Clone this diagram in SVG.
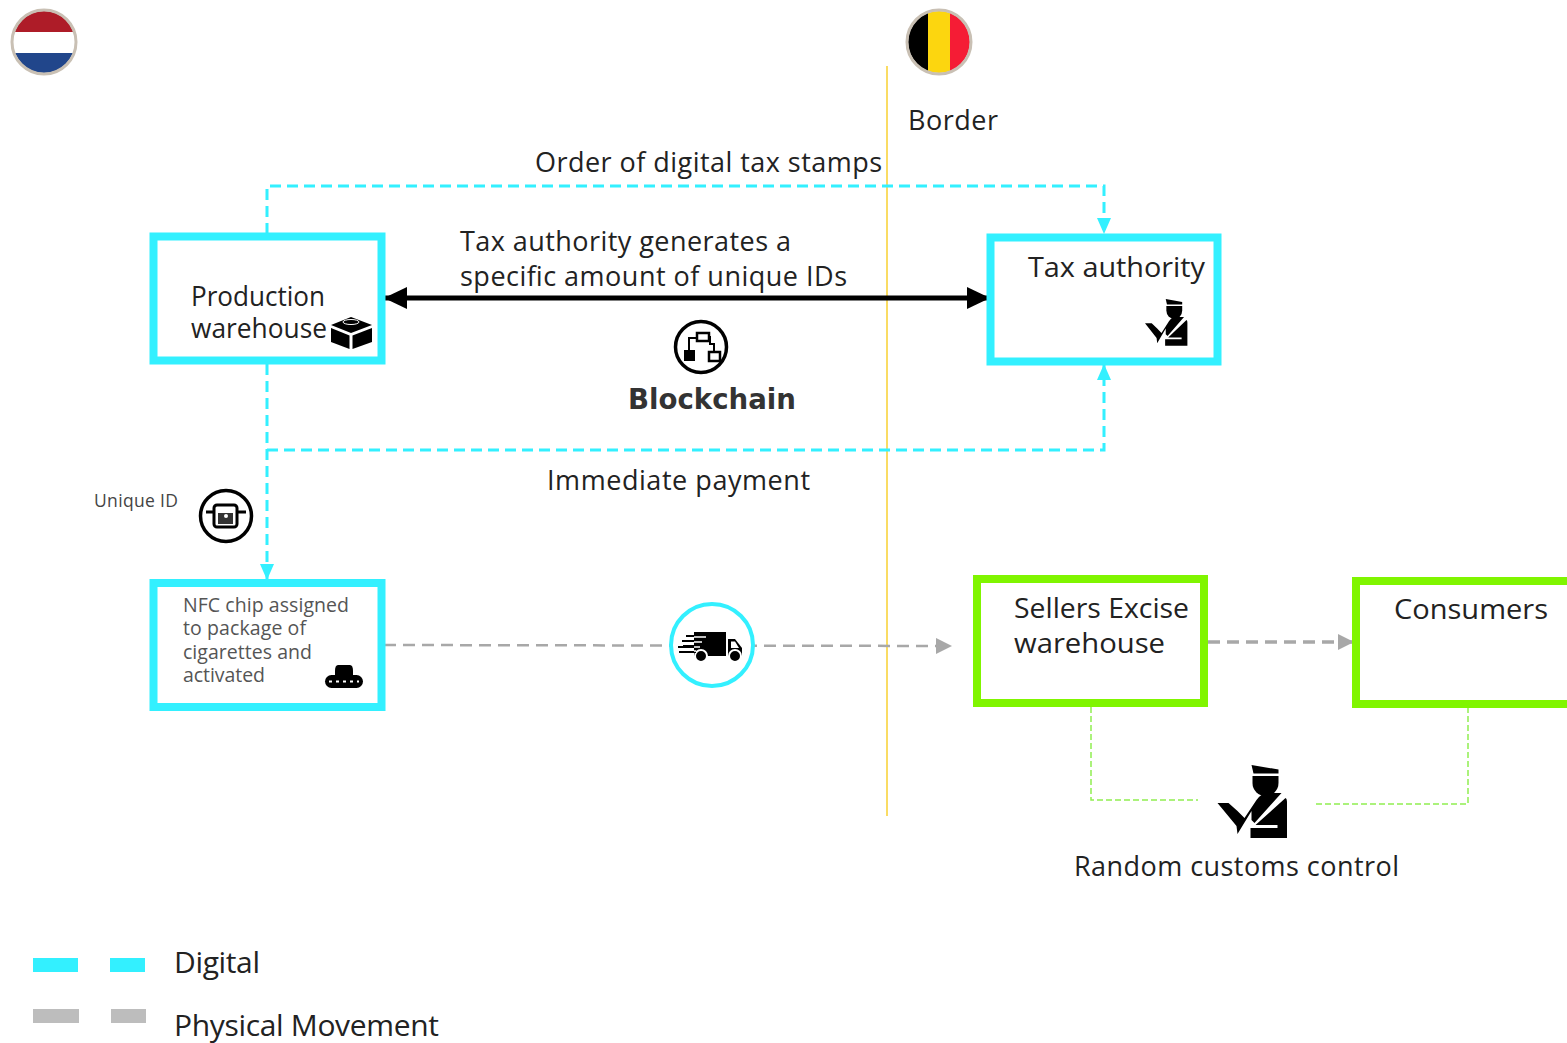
<svg xmlns="http://www.w3.org/2000/svg" xmlns:xlink="http://www.w3.org/1999/xlink" width="1567" height="1043" viewBox="0 0 1567 1043">
<style>
text{font-family:"Open Sans","Noto Sans",sans-serif;fill:#222}
.t28{font-size:28px}.t27{font-size:27px}
.box{fill:#fff;stroke-width:8}
.cy{stroke:#33f0ff}.gr{stroke:#80f500}
.dig{fill:none;stroke:#33f0ff;stroke-width:3;stroke-dasharray:11 6}
.phy{fill:none;stroke:#a8a8a8;stroke-width:2.5;stroke-dasharray:12 7}
.thin{fill:none;stroke:#90ee50;stroke-width:1.5;stroke-dasharray:6 3}
.ring{fill:#fff;stroke:#000;stroke-width:4}
</style>
<defs>
<clipPath id="nlc"><circle cx="44" cy="42" r="31"/></clipPath>
<clipPath id="bec"><circle cx="939" cy="42" r="31"/></clipPath>
<marker id="ah" markerWidth="16" markerHeight="14" refX="16" refY="7" orient="auto" markerUnits="userSpaceOnUse"><path d="M0 0L16 7L0 14z" fill="#33f0ff"/></marker>
<marker id="ag" markerWidth="16" markerHeight="16" refX="16" refY="8" orient="auto" markerUnits="userSpaceOnUse"><path d="M0 0L16 8L0 16z" fill="#a8a8a8"/></marker>
<marker id="bk" markerWidth="24" markerHeight="24" refX="22" refY="12" orient="auto-start-reverse" markerUnits="userSpaceOnUse"><path d="M0 1L23 12L0 23z" fill="#000"/></marker>
<g id="officer">
<path d="M34 0L61 4.500V8.500L36 8.500z"/>
<path d="M35 11H61V18A13 13 0 0 1 35 18z"/>
<path d="M0 42L11 42L20 50L27 57L39 39Q44 32 50 32H64L37 62L34 59V58L34 50L20 73L19 65z" transform="translate(0 -4)"/>
<path d="M68 33L69 34Q69.500 36 69.500 37V73H33V63H60V60H38z"/>
</g>
</defs>

<g id="flag-netherlands">
<g clip-path="url(#nlc)"><rect x="10" y="8" width="68" height="24" fill="#ae1c28"/><rect x="10" y="32" width="68" height="21" fill="#fff"/><rect x="10" y="53" width="68" height="24" fill="#21468b"/></g>
<circle cx="44" cy="42" r="32" fill="none" stroke="#c9c0b4" stroke-width="3"/>
</g>
<g id="flag-belgium">
<g clip-path="url(#bec)"><rect x="905" y="8" width="24" height="68" fill="#000"/><rect x="928" y="8" width="22" height="68" fill="#fcd60f"/><rect x="950" y="8" width="24" height="68" fill="#f51c35"/></g>
<circle cx="939" cy="42" r="32" fill="none" stroke="#c9c0b4" stroke-width="3"/>
</g>

<g id="connectors">
<line x1="887" y1="66" x2="887" y2="816" stroke="#fadc64" stroke-width="2"/>
<path class="dig" d="M267 234V186H1104V234" marker-end="url(#ah)"/>
<path class="dig" d="M267 364V580" marker-end="url(#ah)"/>
<path class="dig" d="M267 450H1104V364" marker-end="url(#ah)"/>
<line x1="385" y1="298" x2="989" y2="298" stroke="#000" stroke-width="5" marker-start="url(#bk)" marker-end="url(#bk)"/>
<path class="phy" d="M384 645L952 646" marker-end="url(#ag)"/>
<path class="phy" style="stroke-width:3.500" d="M1208 642L1354 642" marker-end="url(#ag)"/>
<path class="thin" d="M1091 707V800H1198"/>
<path class="thin" d="M1468 707V804H1316"/>
</g>

<g id="production-warehouse">
<rect class="box cy" x="153.500" y="236.500" width="228" height="124"/>
<text class="t27" x="191" y="306" textLength="134" lengthAdjust="spacingAndGlyphs">Production</text>
<text class="t27" x="191" y="338" textLength="136" lengthAdjust="spacingAndGlyphs">warehouse</text>
<g id="box-icon">
<path d="M351 317L372 325L351 333L331 325z"/>
<path d="M331 328L349.500 335.500V349L331 342z"/>
<path d="M372 328L352.500 335.500V349L372 342z"/>
<ellipse cx="351" cy="322" rx="8" ry="2.500" fill="none" stroke="#fff" stroke-width="1"/>
</g>
</g>

<g id="tax-authority">
<rect class="box cy" x="990.500" y="237.500" width="227" height="124"/>
<text class="t28" x="1028" y="277" textLength="177" lengthAdjust="spacingAndGlyphs">Tax authority</text>
<use href="#officer" transform="translate(1145 299) scale(.61 .64)"/>
</g>

<g id="blockchain">
<circle class="ring" cx="701" cy="347" r="25.500" style="stroke-width:3.500"/>
<path d="M689 354V338H697M710 336V344H714V352" fill="none" stroke="#000" stroke-width="2"/>
<rect x="697" y="333" width="12" height="8" fill="#fff" stroke="#000" stroke-width="2.500"/>
<rect x="684" y="350" width="11" height="11"/>
<rect x="709" y="352" width="11" height="9" fill="#fff" stroke="#000" stroke-width="2.500"/>
<text x="628" y="409" font-size="29" font-weight="700" style="font-family:'DejaVu Sans',sans-serif;fill:#333" textLength="168" lengthAdjust="spacingAndGlyphs">Blockchain</text>
</g>

<g id="nfc-chip">
<rect class="box cy" x="153.500" y="583" width="228" height="124"/>
<g font-size="19.500" style="font-size:19.500px">
<text x="183" y="612" style="fill:#555" textLength="166">NFC chip assigned</text>
<text x="183" y="635" style="fill:#555" textLength="123">to package of</text>
<text x="183" y="659" style="fill:#555" textLength="129">cigarettes and</text>
<text x="183" y="682" style="fill:#555" textLength="82">activated</text>
</g>
<g id="conveyor-icon">
<path d="M335 671Q335 665 338 665H350Q353 665 353 671V675H335z"/>
<rect x="325" y="675" width="38" height="13" rx="6.500"/>
<path d="M329 681.500H359" stroke="#fff" stroke-width="2" stroke-dasharray="3 4"/>
</g>
</g>

<g id="truck">
<circle cx="712" cy="645" r="41" fill="#fff" stroke="#33f0ff" stroke-width="4"/>
<path d="M694 632H726V656H694z"/>
<path d="M728 639H735L742 648V656H728z"/>
<path d="M731 641.500H735L739 648H731z" fill="#fff"/>
<circle cx="701" cy="656" r="6" stroke="#fff" stroke-width="2"/>
<circle cx="735" cy="656" r="6" stroke="#fff" stroke-width="2"/>
<path d="M686 636H706M682 641H702M683 646H700M678 647H696M679 652H696" stroke="#000" stroke-width="1.800"/>
<path d="M694 637H706M694 642H702M694 647H700M694 651H696" stroke="#fff" stroke-width="1.500"/>
</g>

<g id="sellers-excise-warehouse">
<rect class="box gr" x="977" y="579" width="227" height="124"/>
<text class="t28" x="1014" y="618" textLength="175" lengthAdjust="spacingAndGlyphs">Sellers Excise</text>
<text class="t28" x="1014" y="653" textLength="151" lengthAdjust="spacingAndGlyphs">warehouse</text>
</g>

<g id="consumers">
<rect class="box gr" x="1356" y="581" width="227" height="123"/>
<text class="t28" x="1394" y="619" textLength="154" lengthAdjust="spacingAndGlyphs">Consumers</text>
</g>

<g id="customs-control">
<use href="#officer" transform="translate(1217.500 765)"/>
<text x="1074" y="876" font-size="27" style="font-size:27px" textLength="325">Random customs control</text>
</g>

<g id="unique-id">
<text x="94" y="507" style="font-size:17.500px;fill:#444" textLength="84">Unique ID</text>
<circle class="ring" cx="226" cy="516" r="25.500" style="stroke-width:3.500"/>
<path d="M206 512H246" stroke="#000" stroke-width="3"/>
<rect x="214" y="505" width="23" height="22" rx="3" fill="#fff" stroke="#000" stroke-width="3"/>
<rect x="218" y="513" width="15" height="11" fill="#333"/>
<circle cx="226" cy="516" r="2" fill="#fff"/>
</g>

<g id="labels">
<text x="953" y="130" text-anchor="middle" style="font-size:27px" textLength="90">Border</text>
<text x="535" y="172" style="font-size:27px" textLength="347">Order of digital tax stamps</text>
<text x="460" y="251" style="font-size:27px" textLength="331">Tax authority generates a</text>
<text x="460" y="286" style="font-size:27px" textLength="387">specific amount of unique IDs</text>
<text x="547" y="490" style="font-size:27px" textLength="263">Immediate payment</text>
</g>

<g id="legend">
<rect x="33" y="958" width="45" height="14" fill="#33f0ff"/>
<rect x="110" y="958" width="35" height="14" fill="#33f0ff"/>
<rect x="33" y="1009" width="46" height="14" fill="#bdbdbd"/>
<rect x="111" y="1009" width="35" height="14" fill="#bdbdbd"/>
<text x="174" y="973" style="font-size:30px" textLength="86">Digital</text>
<text x="174" y="1036" style="font-size:30px" textLength="265">Physical Movement</text>
</g>
</svg>
